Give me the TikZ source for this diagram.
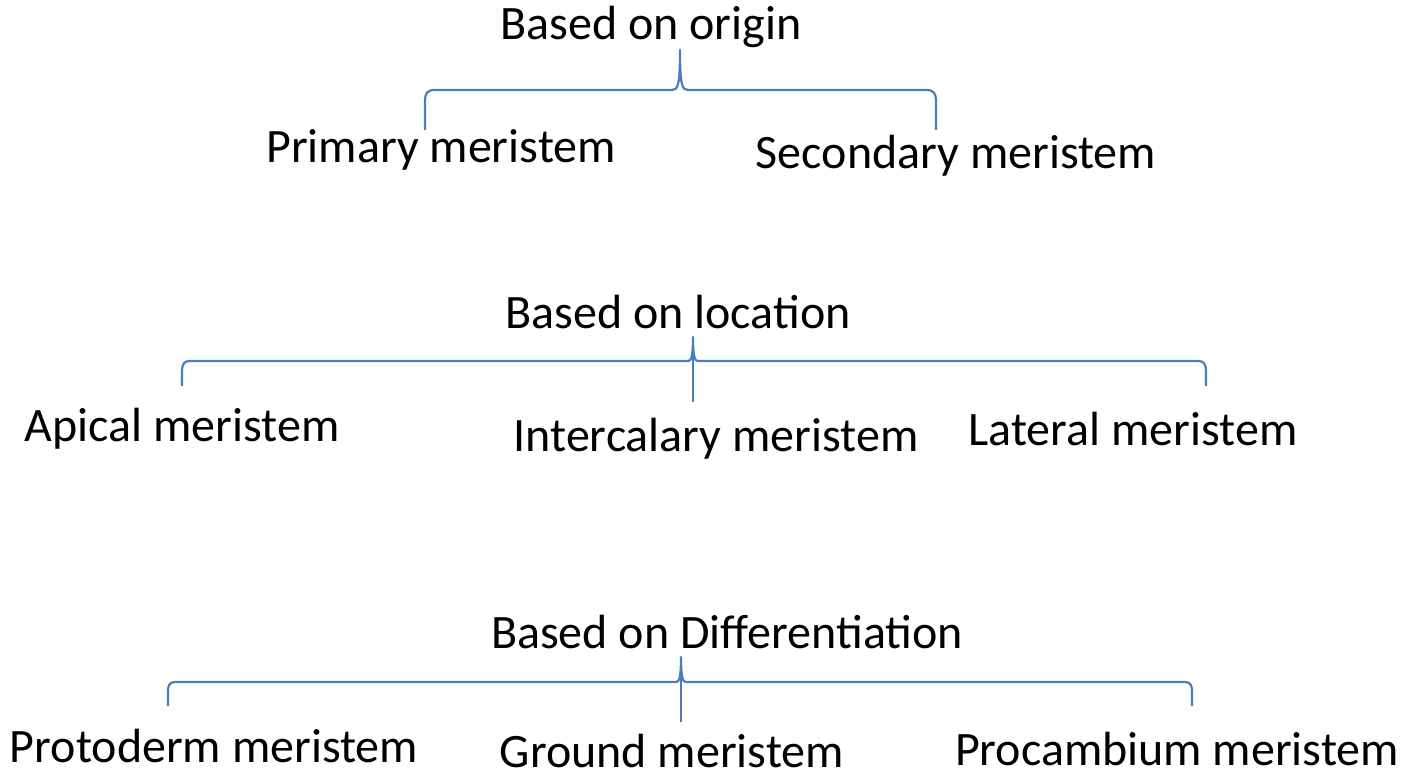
\documentclass[tikz,border=0pt]{standalone}
\usepackage{fontspec}
\setmainfont{Carlito}
\definecolor{braceblue}{RGB}{74,126,187}
\begin{document}
\begin{tikzpicture}[x=1pt,y=-1pt,
  lbl/.style={anchor=base,inner sep=0pt,font=\fontsize{48}{54}\selectfont},
  br/.style={draw=braceblue,line width=2.2pt,line join=round}]
\useasboundingbox (0,0) rectangle (1409,775);
% group 1
\node[lbl] (o) at (651,40) {Based on origin};
\node[lbl] (o1) at (441,163) {Primary meristem};
\node[lbl] (o2) at (956,169) {Secondary meristem};
\coordinate (b1l) at (425,130);
\coordinate (b1r) at (936,130);
\coordinate (b1t) at (680,50);
\draw[br] (b1l) -- (425,102) .. controls (425,93) and (427,90) .. (435,90) -- (672,90)
  .. controls (678,90) and (680,85) .. (b1t)
  .. controls (680,85) and (682,90) .. (688,90) -- (926,90)
  .. controls (934,90) and (936,93) .. (936,102) -- (b1r);
% group 2
\node[lbl] (l) at (678,329) {Based on location};
\node[lbl] (l1) at (182,442) {Apical meristem};
\node[lbl] (l2) at (716,452) {Intercalary meristem};
\node[lbl] (l3) at (1133,446) {Lateral meristem};
\coordinate (b2l) at (182,386);
\coordinate (b2r) at (1206,386);
\coordinate (b2t) at (693,337);
\coordinate (b2b) at (693,402);
\draw[br] (b2l) -- (182,372) .. controls (182,364) and (184,361) .. (190,361) -- (688,361)
  .. controls (691,361) and (693,358) .. (b2t)
  .. controls (693,358) and (695,361) .. (698,361) -- (1198,361)
  .. controls (1204,361) and (1206,364) .. (1206,372) -- (b2r);
\draw[br,line width=1.8pt] (b2t) -- (b2b);
% group 3
\node[lbl] (d) at (727,648) {Based on Differentiation};
\node[lbl] (d1) at (214,762) {Protoderm meristem};
\node[lbl] (d2) at (672,767) {Ground meristem};
\node[lbl] (d3) at (1177,765) {Procambium meristem};
\coordinate (b3l) at (168,706);
\coordinate (b3r) at (1192,706);
\coordinate (b3t) at (681,657);
\coordinate (b3b) at (681,722);
\draw[br] (b3l) -- (168,692) .. controls (168,684) and (170,682) .. (176,682) -- (676,682)
  .. controls (679,682) and (681,679) .. (b3t)
  .. controls (681,679) and (683,682) .. (686,682) -- (1184,682)
  .. controls (1190,682) and (1192,684) .. (1192,692) -- (b3r);
\draw[br,line width=1.8pt] (b3t) -- (b3b);
\end{tikzpicture}
\end{document}
